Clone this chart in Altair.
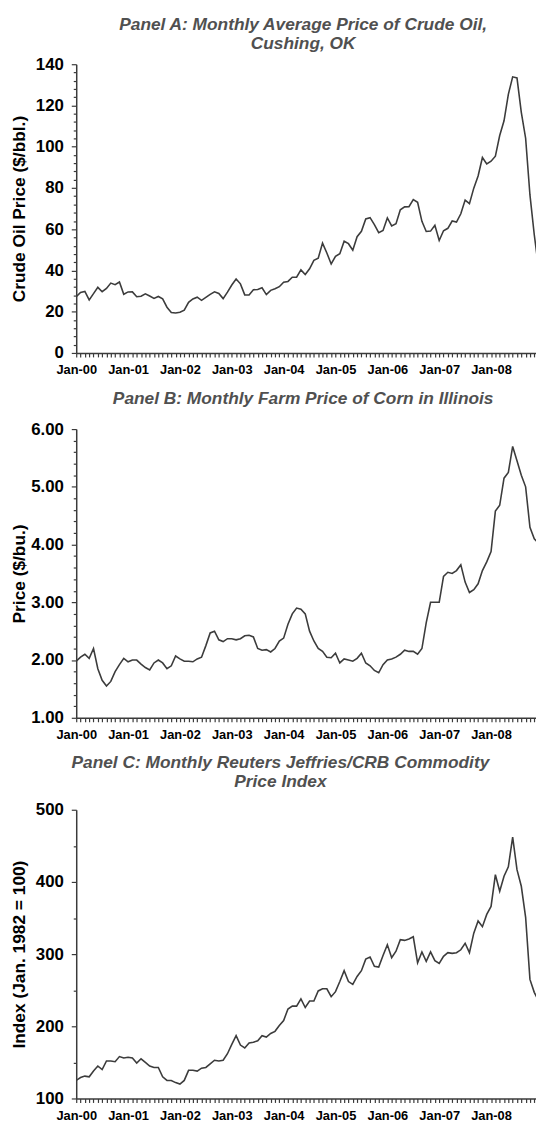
import altair as alt
import pandas as pd

# month index: 0 = Jan-2000 ... 107 = Dec-2008
oil_2000 = [27.26, 29.37, 29.84, 25.72, 28.79, 31.82, 29.70, 31.26, 33.88, 33.11, 34.42, 28.44]
oil_2001 = [29.59, 29.61, 27.25, 27.49, 28.63, 27.60, 26.43, 27.37, 26.20, 22.17, 19.64, 19.39]
oil_2002 = [19.72, 20.72, 24.53, 26.18, 27.04, 25.52, 26.97, 28.39, 29.66, 28.84, 26.35, 29.46]
oil_2003 = [32.95, 35.83, 33.51, 28.17, 28.11, 30.66, 30.76, 31.57, 28.31, 30.34, 31.11, 32.13]
oil_2004 = [34.31, 34.69, 36.74, 36.75, 40.28, 38.03, 40.78, 44.90, 45.94, 53.28, 48.47, 43.15]
oil_2005 = [46.84, 48.15, 54.19, 52.98, 49.83, 56.35, 59.00, 64.99, 65.59, 62.26, 58.32, 59.41]
oil_2006 = [65.49, 61.63, 62.69, 69.44, 70.84, 70.95, 74.41, 73.04, 63.80, 58.89, 59.08, 61.96]
oil_2007 = [54.51, 59.28, 60.44, 63.98, 63.46, 67.49, 74.12, 72.36, 79.92, 85.80, 94.77, 91.69]
oil_2008 = [92.97, 95.39, 105.45, 112.58, 125.40, 133.88, 133.37, 116.67, 104.11, 76.61, 57.31, 41.12]

corn_2000 = [1.98, 2.05, 2.10, 2.03, 2.20, 1.85, 1.65, 1.55, 1.63, 1.80, 1.92, 2.03]
corn_2001 = [1.97, 2.00, 2.00, 1.93, 1.87, 1.83, 1.95, 2.00, 1.95, 1.85, 1.90, 2.07]
corn_2002 = [2.02, 1.98, 1.98, 1.97, 2.02, 2.05, 2.25, 2.47, 2.50, 2.35, 2.32, 2.37]
corn_2003 = [2.37, 2.35, 2.37, 2.42, 2.43, 2.40, 2.20, 2.17, 2.18, 2.14, 2.20, 2.33]
corn_2004 = [2.38, 2.62, 2.80, 2.90, 2.88, 2.80, 2.50, 2.33, 2.20, 2.15, 2.05, 2.04]
corn_2005 = [2.12, 1.95, 2.02, 2.00, 1.98, 2.03, 2.12, 1.95, 1.90, 1.82, 1.78, 1.92]
corn_2006 = [2.00, 2.02, 2.05, 2.10, 2.17, 2.15, 2.15, 2.10, 2.20, 2.65, 3.00, 3.00]
corn_2007 = [3.00, 3.45, 3.52, 3.50, 3.55, 3.65, 3.35, 3.17, 3.22, 3.32, 3.55, 3.70]
corn_2008 = [3.88, 4.58, 4.68, 5.15, 5.25, 5.70, 5.45, 5.20, 5.00, 4.30, 4.10, 4.02]

crb_2000 = [125, 129, 131, 130, 138, 145, 140, 152, 152, 151, 158, 156]
crb_2001 = [157, 156, 149, 155, 150, 145, 143, 143, 130, 125, 125, 122]
crb_2002 = [120, 125, 139, 139, 138, 142, 143, 148, 153, 152, 153, 162]
crb_2003 = [175, 187, 174, 170, 177, 178, 180, 187, 185, 190, 193, 201]
crb_2004 = [208, 224, 228, 228, 238, 226, 235, 235, 249, 252, 252, 241]
crb_2005 = [248, 262, 277, 262, 258, 269, 277, 293, 296, 283, 282, 298]
crb_2006 = [313, 295, 304, 320, 319, 321, 324, 288, 303, 290, 303, 291]
crb_2007 = [287, 297, 302, 301, 302, 306, 315, 302, 329, 346, 338, 355]
crb_2008 = [366, 410, 387, 408, 421, 462, 417, 394, 351, 265, 247, 235]

oil = oil_2000 + oil_2001 + oil_2002 + oil_2003 + oil_2004 + oil_2005 + oil_2006 + oil_2007 + oil_2008
corn = corn_2000 + corn_2001 + corn_2002 + corn_2003 + corn_2004 + corn_2005 + corn_2006 + corn_2007 + corn_2008
crb = crb_2000 + crb_2001 + crb_2002 + crb_2003 + crb_2004 + crb_2005 + crb_2006 + crb_2007 + crb_2008
months = list(range(len(oil)))

FONT = "Liberation Sans"
LINE = "#3c3c3c"
AXIS = "#3a3a3a"
TITLE_COLOR = "#505050"
XMAX = 106.4
W = 465
H = 292


def panel(values, ytitle, domain, major, minor, fmt, title_lines, offset, dx):
    df = pd.DataFrame({"m": months, "v": values})
    n = int(round((domain[1] - domain[0]) / minor))
    yticks = [round(domain[0] + i * minor, 4) for i in range(n + 1)]
    major_test = f"abs(datum.value / {major} - round(datum.value / {major})) < 0.001"
    xticks = list(range(0, 107))
    return alt.Chart(df).mark_line(color=LINE, strokeWidth=1.6, clip=True).encode(
        x=alt.X(
            "m:Q",
            scale=alt.Scale(domain=[0, XMAX], nice=False, zero=False),
            axis=alt.Axis(
                values=xticks,
                labelExpr="datum.value % 12 === 0 ? 'Jan-0' + (datum.value / 12) : ''",
                title=None, grid=False, labelOverlap=False, labelFlush=False,
                tickSize=4, labelPadding=7, labelFontSize=13,
            ),
        ),
        y=alt.Y(
            "v:Q",
            scale=alt.Scale(domain=domain, nice=False, zero=False),
            axis=alt.Axis(
                values=yticks,
                labelExpr=f"{major_test} ? format(datum.value, '{fmt}') : ''",
                tickSize={"condition": {"test": major_test, "value": 5}, "value": 3},
                grid=False, labelOverlap=False, labelFlush=False,
                labelPadding=8, labelFontSize=17,
                title=ytitle, titleX=-57, titleY=H / 2, titleAngle=270,
                titleAlign="center", titleBaseline="middle", titleFontSize=17.5,
            ),
        ),
    ).properties(
        width=W, height=H,
        title=alt.TitleParams(
            text=title_lines, anchor="middle", frame="group", font=FONT, fontSize=17.5,
            fontWeight="bold", fontStyle="italic", color=TITLE_COLOR, lineHeight=19.5,
            offset=offset, dx=dx,
        ),
    )


a = panel(oil, "Crude Oil Price ($/bbl.)", [0, 140], 20, 4, "d",
          ["Panel A: Monthly Average Price of Crude Oil,", "Cushing, OK"], 3, -3)
b = panel(corn, "Price ($/bu.)", [1, 6], 1, 0.2, ".2f",
          ["Panel B: Monthly Farm Price of Corn in Illinois"], 13, -3)
c = panel(crb, "Index (Jan. 1982 = 100)", [100, 500], 100, 50, "d",
          ["Panel C: Monthly Reuters Jeffries/CRB Commodity", "Price Index"], 10, -26)

chart = alt.vconcat(a, b, c, spacing=13).properties(
    padding={"top": 1.5, "left": 3, "right": 0, "bottom": 0}
).configure_view(stroke=None).configure_axis(
    labelFont=FONT, labelFontWeight="bold", labelColor="black",
    titleFont=FONT, titleFontWeight="bold", titleColor="black",
    domainColor=AXIS, domainWidth=1.5, tickColor=AXIS, tickWidth=1.2,
)

chart.save("out.html", embed_options={"renderer": "svg", "actions": False})
